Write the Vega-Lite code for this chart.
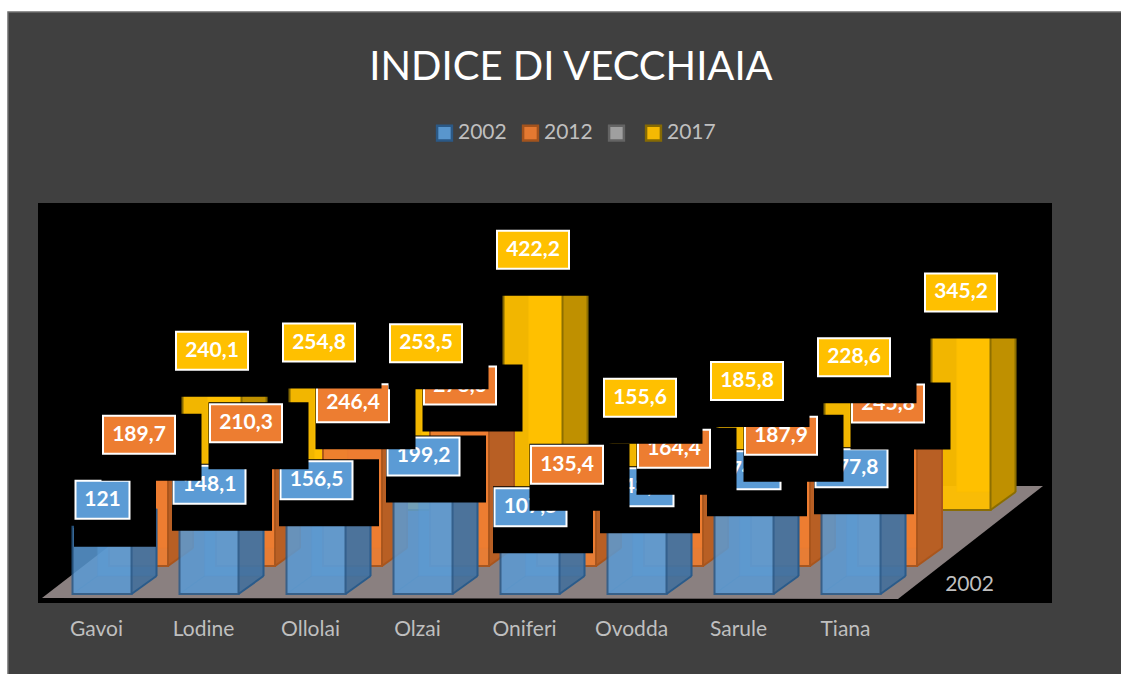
{
"$schema":"https://vega.github.io/schema/vega-lite/v6.json",
"width":1014,"height":400,
"autosize":"none",
"padding":{"left":38,"top":203,"right":69,"bottom":71},
"background":"#ffffff",
"view":{"stroke":null,"fill":null},
"title":{"text":"INDICE DI VECCHIAIA","font":"Lato","fontWeight":"normal","fontSize":40,"color":"#ffffff","anchor":"middle","frame":"group","dx":26,"offset":-79},
"datasets":{
"panel":[{"comune":"Gavoi","valore":0}],
"depth":[{"comune":"Tiana","valore":0,"testo":"2002"}],
"s2002":[
{"comune":"Gavoi","anno":"2002","valore":121,"testo":"121"},
{"comune":"Lodine","anno":"2002","valore":148.1,"testo":"148,1"},
{"comune":"Ollolai","anno":"2002","valore":156.5,"testo":"156,5"},
{"comune":"Olzai","anno":"2002","valore":199.2,"testo":"199,2"},
{"comune":"Oniferi","anno":"2002","valore":107.5,"testo":"107,5"},
{"comune":"Ovodda","anno":"2002","valore":143.5,"testo":"143,5"},
{"comune":"Sarule","anno":"2002","valore":174.4,"testo":"174,4"},
{"comune":"Tiana","anno":"2002","valore":177.8,"testo":"177,8"}],
"s2012":[
{"comune":"Gavoi","anno":"2012","valore":189.7,"testo":"189,7"},
{"comune":"Lodine","anno":"2012","valore":210.3,"testo":"210,3"},
{"comune":"Ollolai","anno":"2012","valore":246.4,"testo":"246,4"},
{"comune":"Olzai","anno":"2012","valore":278.3,"testo":"278,3"},
{"comune":"Oniferi","anno":"2012","valore":135.4,"testo":"135,4"},
{"comune":"Ovodda","anno":"2012","valore":164.4,"testo":"164,4"},
{"comune":"Sarule","anno":"2012","valore":187.9,"testo":"187,9"},
{"comune":"Tiana","anno":"2012","valore":245.8,"testo":"245,8"}],
"s2017":[
{"comune":"Gavoi","anno":"2017","valore":240.1,"testo":"240,1"},
{"comune":"Lodine","anno":"2017","valore":254.8,"testo":"254,8"},
{"comune":"Ollolai","anno":"2017","valore":253.5,"testo":"253,5"},
{"comune":"Olzai","anno":"2017","valore":422.2,"testo":"422,2"},
{"comune":"Oniferi","anno":"2017","valore":155.6,"testo":"155,6"},
{"comune":"Ovodda","anno":"2017","valore":185.8,"testo":"185,8"},
{"comune":"Sarule","anno":"2017","valore":228.6,"testo":"228,6"},
{"comune":"Tiana","anno":"2017","valore":345.2,"testo":"345,2"}]
},
"encoding":{
"x":{"field":"comune","type":"nominal","sort":null,"title":null,
"scale":{"domain":["Gavoi","Lodine","Ollolai","Olzai","Oniferi","Ovodda","Sarule","Tiana"],"range":[5,861],"paddingInner":0,"paddingOuter":0},
"axis":{"zindex":1,"domain":false,"ticks":false,"labelAngle":0,"labelFont":"Lato","labelFontSize":21,"labelColor":"#bfbfbf","labelPadding":26,"labelBaseline":"middle"}},
"y":{"field":"valore","type":"quantitative","stack":false,"title":null,"axis":null,"scale":{"domain":[0,700],"range":[391,2.5],"nice":false,"zero":true}}
},
"layer":[
{"data":{"name":"panel"},"mark":{"type":"point","shape":"M-88.5,-582H1034V90H-88.5Z","size":4,"filled":true,"fill":"#404040","stroke":"#6e6e6e","strokeWidth":1.5,"opacity":1}},
{"data":{"name":"panel"},"mark":{"type":"point","shape":"M-58.5,-391H955.5V9H-58.5Z","size":4,"filled":true,"fill":"#000000","opacity":1}},
{"data":{"name":"panel"},"mark":{"type":"point","shape":"M-54.5,4L90.5,-108H946.5L801.5,5Z","size":4,"filled":true,"fill":"#8a8080","opacity":1}},
{"data":{"name":"depth"},"mark":{"type":"text","font":"Lato","fontSize":21,"color":"#bfbfbf","align":"center","baseline":"middle","xOffset":124,"yOffset":-9},"encoding":{"text":{"field":"testo"}}},

{"data":{"name":"s2017"},"mark":{"type":"bar","width":59,"xOffset":140.5,"yOffset":-102,"y2Offset":-102,"fill":"#ffc000","stroke":"#8a6d00","strokeWidth":1.5,"strokeOpacity":0.35,"opacity":1},"encoding":{"y2":{"datum":0}}},
{"data":{"name":"s2017"},"mark":{"type":"bar","width":25,"xOffset":157.5,"yOffset":-102,"y2Offset":-102,"fill":"#bf9000","opacity":1},"encoding":{"y2":{"datum":0}}},
{"data":{"name":"s2017"},"mark":{"type":"bar","width":2,"xOffset":170,"yOffset":-102,"y2Offset":-102,"fill":"#8a6d00","opacity":1},"encoding":{"y2":{"datum":0}}},
{"data":{"name":"s2017"},"mark":{"type":"point","shape":"M29.5,0L54.5,-18H29.5Z","size":4,"filled":true,"fill":"#bf9000","xOffset":115.5,"yOffset":-84,"opacity":1},"encoding":{"y":{"datum":0}}},
{"data":{"name":"s2017"},"mark":{"type":"point","shape":"M29.5,0L54.5,-18","size":4,"filled":false,"stroke":"#8a6d00","strokeWidth":2,"xOffset":115.5,"yOffset":-84,"opacity":1},"encoding":{"y":{"datum":0}}},
{"data":{"name":"s2017"},"mark":{"type":"bar","width":59,"xOffset":115.5,"yOffset":-84,"y2Offset":-84,"strokeWidth":2,"opacity":0.95},"encoding":{"y2":{"datum":0},
"color":{"field":"anno","type":"nominal","title":null,"scale":{"domain":["2002","2012"," ","2017"],"range":["#5b9bd5","#ed7d31","#a5a5a5","#ffc000"]},"legend":{"orient":"none","legendX":396,"legendY":-80.5,"direction":"horizontal","columns":4,"symbolType":"square","symbolSize":220,"symbolStrokeWidth":2.5,"symbolOpacity":0.85,"labelFont":"Lato","labelFontSize":21,"labelColor":"#bfbfbf","labelOffset":3,"columnPadding":11,"title":null}},
"stroke":{"field":"anno","type":"nominal","title":null,"scale":{"domain":["2002","2012"," ","2017"],"range":["#2a5b8a","#a9551c","#666666","#8a6d00"]},"legend":{"orient":"none","legendX":396,"legendY":-80.5,"direction":"horizontal","columns":4,"symbolType":"square","symbolSize":220,"symbolStrokeWidth":2.5,"symbolOpacity":0.85,"labelFont":"Lato","labelFontSize":21,"labelColor":"#bfbfbf","labelOffset":3,"columnPadding":11,"title":null}}}},

{"data":{"name":"s2012"},"mark":{"type":"bar","width":59,"xOffset":67,"yOffset":-46,"y2Offset":-46,"fill":"#ed7d31","stroke":"#a9551c","strokeWidth":1.5,"strokeOpacity":0.35,"opacity":1},"encoding":{"y2":{"datum":0}}},
{"data":{"name":"s2012"},"mark":{"type":"bar","width":25,"xOffset":84,"yOffset":-46,"y2Offset":-46,"fill":"#b85f24","opacity":1},"encoding":{"y2":{"datum":0}}},
{"data":{"name":"s2012"},"mark":{"type":"bar","width":2,"xOffset":96.5,"yOffset":-46,"y2Offset":-46,"fill":"#a9551c","opacity":1},"encoding":{"y2":{"datum":0}}},
{"data":{"name":"s2012"},"mark":{"type":"point","shape":"M29.5,0L54.5,-18H29.5Z","size":4,"filled":true,"fill":"#b85f24","xOffset":42,"yOffset":-28,"opacity":1},"encoding":{"y":{"datum":0}}},
{"data":{"name":"s2012"},"mark":{"type":"point","shape":"M29.5,0L54.5,-18","size":4,"filled":false,"stroke":"#a9551c","strokeWidth":2,"xOffset":42,"yOffset":-28,"opacity":1},"encoding":{"y":{"datum":0}}},
{"data":{"name":"s2012"},"mark":{"type":"bar","width":59,"xOffset":42,"yOffset":-28,"y2Offset":-28,"strokeWidth":2,"opacity":0.95},"encoding":{"y2":{"datum":0},"color":{"field":"anno","type":"nominal","title":null},"stroke":{"field":"anno","type":"nominal","title":null}}},

{"data":{"name":"s2002"},"mark":{"type":"bar","width":59,"xOffset":30.5,"yOffset":-18,"y2Offset":-18,"fill":"#5b9bd5","stroke":"#2a5b8a","strokeWidth":1.5,"strokeOpacity":0.35,"opacity":0.6},"encoding":{"y2":{"datum":0}}},
{"data":{"name":"s2002"},"mark":{"type":"bar","width":25,"xOffset":47.5,"yOffset":-18,"y2Offset":-18,"fill":"#3f6f9c","opacity":0.85},"encoding":{"y2":{"datum":0}}},
{"data":{"name":"s2002"},"mark":{"type":"bar","width":2,"xOffset":60,"yOffset":-18,"y2Offset":-18,"fill":"#2a5b8a","opacity":1},"encoding":{"y2":{"datum":0}}},
{"data":{"name":"s2002"},"mark":{"type":"point","shape":"M29.5,0L54.5,-18H29.5Z","size":4,"filled":true,"fill":"#3f6f9c","xOffset":5.5,"opacity":0.85},"encoding":{"y":{"datum":0}}},
{"data":{"name":"s2002"},"mark":{"type":"point","shape":"M29.5,0L54.5,-18","size":4,"filled":false,"stroke":"#2a5b8a","strokeWidth":2,"xOffset":5.5,"opacity":1},"encoding":{"y":{"datum":0}}},
{"data":{"name":"s2002"},"mark":{"type":"point","shape":"M-29.5,0L-4.5,-18","size":4,"filled":false,"stroke":"#2a5b8a","strokeWidth":1.5,"xOffset":5.5,"opacity":0.35},"encoding":{"y":{"datum":0}}},
{"data":{"name":"s2002"},"mark":{"type":"bar","width":59,"xOffset":5.5,"strokeWidth":2,"opacity":0.85},"encoding":{"y2":{"datum":0},"color":{"field":"anno","type":"nominal","title":null},"stroke":{"field":"anno","type":"nominal","title":null}}},

{"data":{"name":"s2002"},"mark":{"type":"point","size":4,"filled":true,"fill":"#000000","xOffset":6,"yOffset":-27,"opacity":1},"encoding":{"shape":{"condition":{"test":"datum.testo==='121'","value":"M-28.5,-21H53.5V47H-28.5Z"},"value":"M-37.5,-21H62.5V46H-37.5Z"}}},
{"data":{"name":"s2002"},"mark":{"type":"point","size":4,"filled":true,"fill":"#5b9bd5","stroke":"#ffffff","strokeWidth":2,"xOffset":6,"yOffset":-27,"opacity":1},"encoding":{"shape":{"condition":{"test":"datum.testo==='121'","value":"M-27,-19H27V19H-27Z"},"value":"M-36,-19H36V19H-36Z"}}},
{"data":{"name":"s2002"},"mark":{"type":"text","font":"Lato","fontWeight":"bold","fontSize":21,"color":"#ffffff","align":"center","baseline":"middle","xOffset":6,"yOffset":-27},"encoding":{"text":{"field":"testo"}}},

{"data":{"name":"s2012"},"mark":{"type":"point","shape":"M-37.5,-21H62.5V46H-37.5Z","size":4,"filled":true,"fill":"#000000","xOffset":42.5,"yOffset":-54,"opacity":1}},
{"data":{"name":"s2012"},"mark":{"type":"point","shape":"M-36,-19H36V19H-36Z","size":4,"filled":true,"fill":"#ed7d31","stroke":"#ffffff","strokeWidth":2,"xOffset":42.5,"yOffset":-54,"opacity":1}},
{"data":{"name":"s2012"},"mark":{"type":"text","font":"Lato","fontWeight":"bold","fontSize":21,"color":"#ffffff","align":"center","baseline":"middle","xOffset":42.5,"yOffset":-54},"encoding":{"text":{"field":"testo"}}},

{"data":{"name":"s2017"},"mark":{"type":"point","shape":"M-37.5,-21H62.5V46H-37.5Z","size":4,"filled":true,"fill":"#000000","xOffset":115.5,"yOffset":-110,"opacity":1}},
{"data":{"name":"s2017"},"mark":{"type":"point","shape":"M-36,-19H36V19H-36Z","size":4,"filled":true,"fill":"#ffc000","stroke":"#ffffff","strokeWidth":2,"xOffset":115.5,"yOffset":-110,"opacity":1}},
{"data":{"name":"s2017"},"mark":{"type":"text","font":"Lato","fontWeight":"bold","fontSize":21,"color":"#ffffff","align":"center","baseline":"middle","xOffset":115.5,"yOffset":-110},"encoding":{"text":{"field":"testo"}}}
]
}
